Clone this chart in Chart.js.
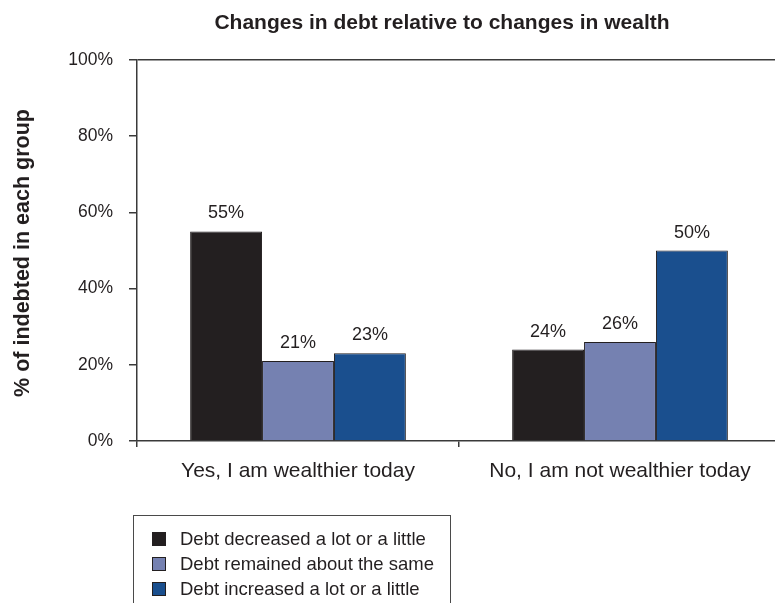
<!DOCTYPE html>
<html>
<head>
<meta charset="utf-8">
<script src="https://cdn.jsdelivr.net/npm/chart.js@4.4.1/dist/chart.umd.min.js"></script>
<style>
    html, body { margin: 0; padding: 0; background: #fff; overflow: hidden; }
    body { width: 775px; height: 603px; position: relative; font-family: "Liberation Sans", Arial, sans-serif; color: #231f20; }
    #chart { position: absolute; left: 0; top: 0; }
    #title { position: absolute; left: 142px; top: 11px; width: 600px; text-align: center; font-size: 21px; line-height: 21px; font-weight: bold; }
    #yTitle { position: absolute; left: -178.5px; top: 241.5px; width: 400px; height: 22px; line-height: 22px; text-align: center; font-size: 21.5px; font-weight: bold; transform: rotate(-90deg); }
    #legend { position: absolute; left: 133px; top: 515px; width: 318px; height: 120px; border: 1px solid #4a4a4a; box-sizing: border-box; padding-top: 10px; }
    .item { height: 25px; line-height: 25px; font-size: 18.5px; white-space: nowrap; }
    .swatch { display: inline-block; width: 12px; height: 12px; border: 1px solid #231f20; margin: 0 14px 0 18px; vertical-align: -1px; }
</style>
</head>
<body>
<canvas id="chart" width="782" height="603"></canvas>
<div id="title">Changes in debt relative to changes in wealth</div>
<div id="yTitle">% of indebted in each group</div>
<div id="legend"></div>

<script>
// Survey groups and the share of indebted respondents in each debt outcome
const groups = ['Yes, I am wealthier today', 'No, I am not wealthier today'];
const seriesNames = ['Debt decreased a lot or a little', 'Debt remained about the same', 'Debt increased a lot or a little'];
const decreased = [55, 24];
const remained = [21, 26];
const increased = [23, 50];
const yTicks = [0, 20, 40, 60, 80, 100];

const colors = ['#231f20', '#7581b1', '#1a4f8e'];
const ink = '#231f20';
const axisColor = '#3a3a3a';

const seriesValues = [decreased, remained, increased];

// Percent label above each bar
const barLabels = {
    id: 'barLabels',
    afterDatasetsDraw(chart) {
        const ctx = chart.ctx;
        ctx.save();
        ctx.font = '18px "Liberation Sans", Arial, sans-serif';
        ctx.fillStyle = ink;
        ctx.textAlign = 'center';
        ctx.textBaseline = 'alphabetic';
        chart.data.datasets.forEach((ds, i) => {
            chart.getDatasetMeta(i).data.forEach((bar, j) => {
                ctx.fillText(ds.data[j] + '%', bar.x, bar.y - 13);
            });
        });
        ctx.restore();
    }
};

new Chart(document.getElementById('chart').getContext('2d'), {
    type: 'bar',
    data: {
        labels: groups,
        datasets: seriesNames.map((name, i) => ({
            label: name,
            data: seriesValues[i],
            backgroundColor: colors[i],
            borderColor: ink,
            borderWidth: 1,
            barPercentage: 1.0,
            categoryPercentage: 0.67
        }))
    },
    options: {
        responsive: false,
        animation: false,
        devicePixelRatio: 1,
        layout: { padding: { top: 60, right: 1, left: 0, bottom: 0 } },
        plugins: {
            legend: { display: false },
            title: { display: false },
            tooltip: { enabled: false }
        },
        scales: {
            x: {
                afterFit(scale) { scale.height = 162; },
                border: { color: axisColor, width: 1.5 },
                grid: { offset: true, drawOnChartArea: false, tickLength: 6, color: axisColor, lineWidth: 1.5 },
                ticks: { color: ink, padding: 12, font: { size: 21, family: '"Liberation Sans", Arial, sans-serif' } }
            },
            y: {
                min: 0,
                max: 100,
                afterFit(scale) { scale.width = 137; },
                afterBuildTicks(scale) { scale.ticks = yTicks.map(v => ({ value: v })); },
                border: { color: axisColor, width: 1.5 },
                grid: {
                    color: c => (c.tick && c.tick.value === 100) ? axisColor : 'rgba(0,0,0,0)',
                    tickColor: axisColor,
                    tickLength: 8,
                    lineWidth: 1.5
                },
                ticks: {
                    color: ink,
                    padding: 16,
                    font: { size: 17.5, family: '"Liberation Sans", Arial, sans-serif' },
                    callback: v => v + '%'
                }
            }
        }
    },
    plugins: [barLabels]
});

// Legend built from the series names and colours
const legend = document.getElementById('legend');
seriesNames.forEach((name, i) => {
    const row = document.createElement('div');
    row.className = 'item';
    row.innerHTML = `<span class="swatch" style="background:${colors[i]}"></span>${name}`;
    legend.appendChild(row);
});
</script>
</body>
</html>
